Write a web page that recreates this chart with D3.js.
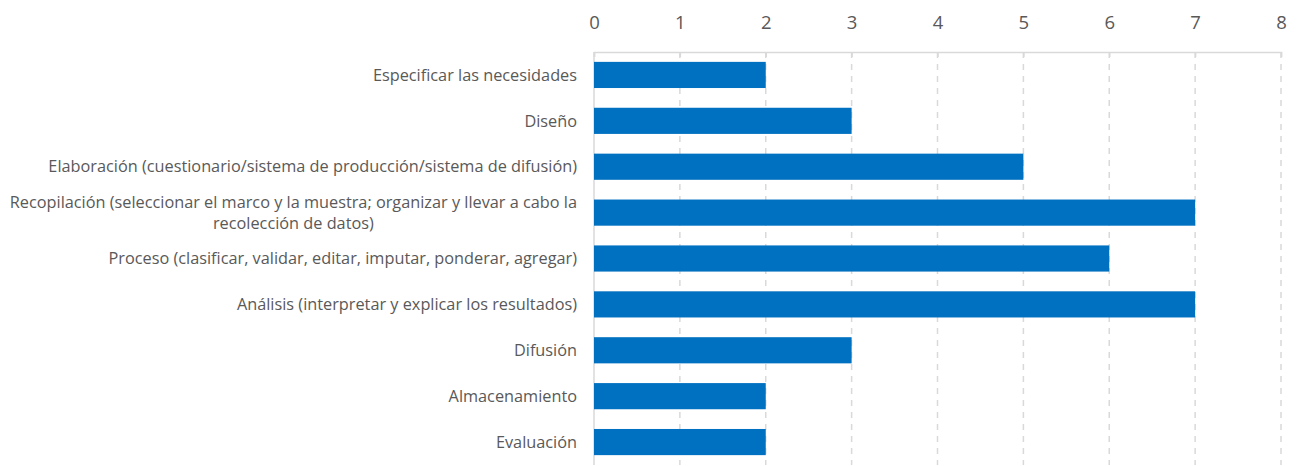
<!DOCTYPE html>
<html>
<head>
<meta charset="utf-8">
<script src="https://cdn.jsdelivr.net/npm/d3@7"></script>
<style>
  body { margin: 0; background: #fff; }
  text { font-family: "Open Sans", "Liberation Sans", sans-serif; fill: #595959; }
</style>
</head>
<body>
<script>
// Chart data
var categories = [
  "Especificar las necesidades",
  "Diseño",
  "Elaboración (cuestionario/sistema de producción/sistema de difusión)",
  "Recopilación (seleccionar el marco y la muestra; organizar y llevar a cabo la|recolección de datos)",
  "Proceso (clasificar, validar, editar, imputar, ponderar, agregar)",
  "Análisis (interpretar y explicar los resultados)",
  "Difusión",
  "Almacenamiento",
  "Evaluación"
];
var values = [2, 3, 5, 7, 6, 7, 3, 2, 2];
var tickValues = [0, 1, 2, 3, 4, 5, 6, 7, 8];

var svgWidth = 1299;
var svgHeight = 466;
var margin = { top: 52, right: 18, bottom: 1, left: 594 };
var width = svgWidth - margin.left - margin.right;
var height = svgHeight - margin.top - margin.bottom;

var svg = d3.select("body").append("svg")
  .attr("width", svgWidth)
  .attr("height", svgHeight);

var chartGroup = svg.append("g")
  .attr("transform", `translate(${margin.left}, ${margin.top})`);

var x = d3.scaleLinear().domain([0, 8]).range([0, width]);
var y = d3.scaleBand().domain(categories).range([0, height]).paddingInner(0.43).paddingOuter(0.215);

// dashed gridlines
chartGroup.selectAll(".grid")
  .data(tickValues.slice(1))
  .enter()
  .append("line")
  .attr("x1", d => x(d)).attr("x2", d => x(d))
  .attr("y1", 0).attr("y2", height)
  .attr("stroke", "#d9d9d9")
  .attr("stroke-width", 1.5)
  .attr("stroke-dasharray", "6,6");

// top axis
var topAxis = d3.axisTop(x).tickValues(tickValues).tickSize(-5).tickPadding(23).tickFormat(d3.format("d"));
var axisG = chartGroup.append("g").call(topAxis);
axisG.select(".domain").attr("stroke", "#d9d9d9").attr("stroke-width", 1.5);
axisG.selectAll(".tick line").attr("stroke", "#d9d9d9").attr("stroke-width", 1.5);
axisG.selectAll(".tick text").style("font-size", "18.5px").attr("fill", "#595959");

// category axis line
chartGroup.append("line")
  .attr("x1", 0).attr("x2", 0).attr("y1", 0).attr("y2", height)
  .attr("stroke", "#d9d9d9").attr("stroke-width", 1.5);

// bars
chartGroup.selectAll(".bar")
  .data(values)
  .enter()
  .append("rect")
  .attr("x", x(0))
  .attr("y", (d, i) => y(categories[i]))
  .attr("width", d => x(d) - x(0))
  .attr("height", y.bandwidth())
  .attr("fill", "#0070C0");

// category labels (right aligned, wrapped one centered)
categories.forEach(function(c) {
  var lines = c.split("|");
  var cy = y(c) + y.bandwidth() / 2;
  if (lines.length === 1) {
    chartGroup.append("text")
      .attr("x", -17).attr("y", cy).attr("dy", "0.35em")
      .attr("text-anchor", "end")
      .style("font-size", "16.3px")
      .text(c);
  } else {
    var t = chartGroup.append("text")
      .attr("y", cy - 10.5).attr("dy", "0.35em")
      .style("font-size", "16.3px")
      .attr("text-anchor", "middle");
    var first = t.append("tspan").text(lines[0]);
    var w = first.node().getComputedTextLength();
    var cx = -17 - w / 2;
    first.attr("x", cx);
    t.append("tspan").attr("x", cx).attr("dy", "21").text(lines[1]);
  }
});
</script>
</body>
</html>
